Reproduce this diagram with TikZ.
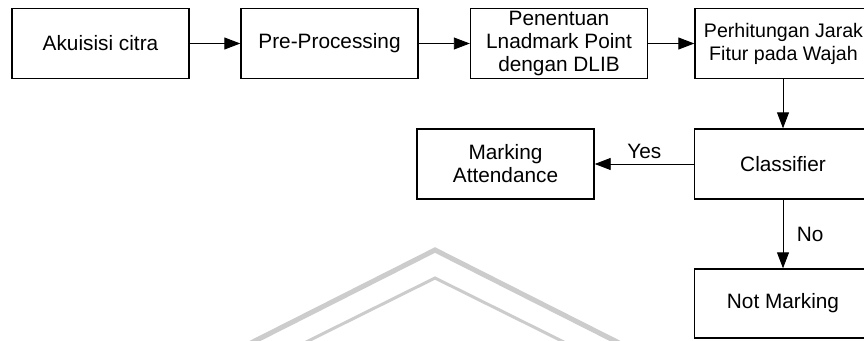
\documentclass[tikz,border=0pt]{standalone}
\usepackage{fontspec}
\setmainfont{Liberation Sans}
\usetikzlibrary{arrows.meta}
\begin{document}
\begin{tikzpicture}[x=1pt,y=-1pt,
  box/.style={draw, line width=1.4pt, minimum width=177pt, minimum height=70pt, align=center, inner sep=0pt,
    font=\fontsize{20.8}{23}\selectfont},
  conn/.style={line width=0.9pt, -{Triangle[length=16pt,width=12pt]}},
  lbl/.style={font=\fontsize{20.8}{23}\selectfont},
  wm/.style={color=black!20, line join=miter}]
\useasboundingbox (0,0) rectangle (864,340);
\clip (0,0) rectangle (864,340);
\fill[white] (0,0) rectangle (864,340);
% watermark
\draw[wm, line width=5pt] (237,350) -- (435,250) -- (633,350);
\draw[wm, line width=3pt] (290,350) -- (435,278) -- (580,350);
% nodes
\node[box] (a) at (100.5,43.5) {Akuisisi citra};
\node[box] (b) at (329.5,43.5) {Pre-Processing};
\node[box] (c) at (559,43.5) {Penentuan\\Lnadmark Point\\dengan DLIB};
\node[box, font=\fontsize{19.6}{23}\selectfont] (d) at (783.5,43.5) {Perhitungan Jarak\\Fitur pada Wajah};
\node[box] (e) at (783,164) {Classifier};
\node[box] (f) at (505.5,164) {Marking\\Attendance};
\node[box, minimum height=69pt] (g) at (783,303.5) {Not Marking};
% connectors
\draw[conn] (a) -- (b);
\draw[conn] (b) -- (c);
\draw[conn] (c) -- (d);
\draw[conn] (d.south -| e.north) -- (e.north);
\draw[conn] (e) -- node[lbl, above=2pt] {Yes} (f);
\draw[conn] (e) -- node[lbl, right=10pt] {No} (g);
\end{tikzpicture}
\end{document}
